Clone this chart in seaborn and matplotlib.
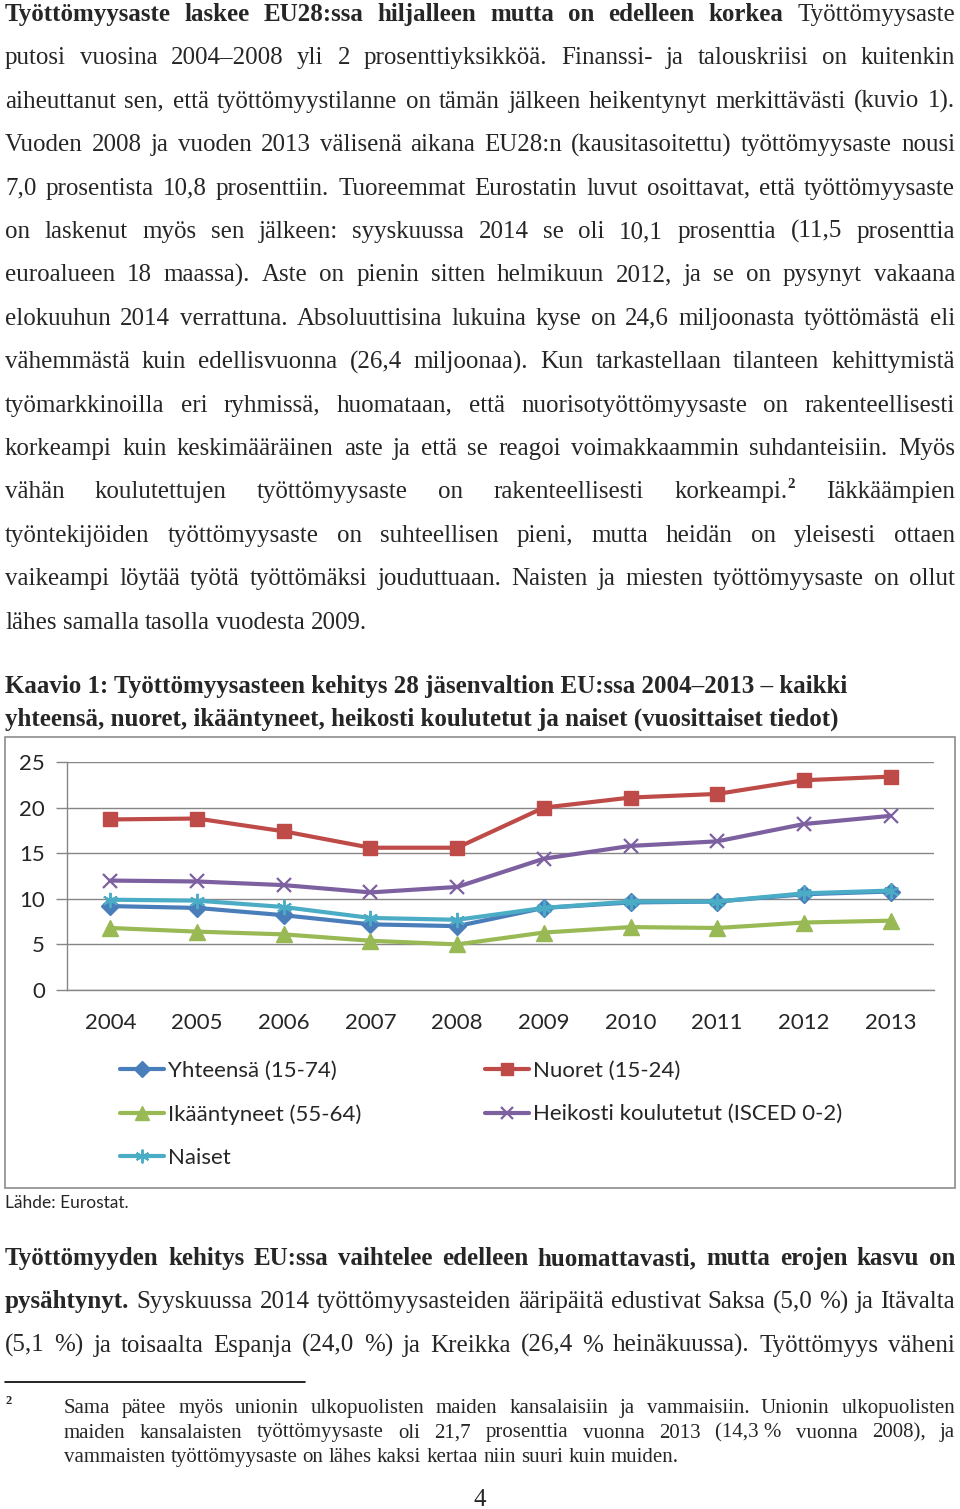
import numpy as np
import pandas as pd
import matplotlib
matplotlib.use("Agg")
import matplotlib.pyplot as plt
import seaborn as sns
from matplotlib.lines import Line2D
from matplotlib.patches import Rectangle

# Kaavion tiedot (luettu kuvasta)
years = ['2004', '2005', '2006', '2007', '2008', '2009', '2010', '2011', '2012', '2013']
yhteensa = [9.2, 9.0, 8.2, 7.2, 7.0, 9.0, 9.6, 9.7, 10.5, 10.8]
nuoret = [18.7, 18.8, 17.4, 15.6, 15.6, 20.0, 21.1, 21.5, 23.0, 23.4]
ikaantyneet = [6.8, 6.4, 6.1, 5.4, 5.0, 6.3, 6.9, 6.8, 7.4, 7.6]
heikosti = [12.0, 11.9, 11.5, 10.7, 11.3, 14.4, 15.8, 16.3, 18.2, 19.1]
naiset = [9.9, 9.8, 9.1, 7.9, 7.7, 9.0, 9.7, 9.7, 10.6, 10.9]
y_ticks = [0, 5, 10, 15, 20, 25]

W, H = 960, 1509
sns.set_style("white")
plt.rcParams['font.family'] = ['Liberation Serif', 'DejaVu Sans']

fig = plt.figure(figsize=(W / 100, H / 100), dpi=100)
renderer = fig.canvas.get_renderer()

SERIF = 'Liberation Serif'
SANS = 'Lato'
BODY = 18


def fx(x):
    return x / W


def fy(y):
    return 1 - y / H


def make_words(segments):
    # segments: (teksti, tyyli); n = normaali, b = lihavoitu, sup = yläindeksi
    words = []
    for text, style in segments:
        if style == 'sup':
            words[-1].append((text, style))
            continue
        for w in text.split(' '):
            if w:
                words.append([(w, style)])
    return words


def text_width(s, size, weight='normal'):
    t = fig.text(0, 0, s, fontsize=size, family=SERIF, weight=weight)
    w = t.get_window_extent(renderer).width
    t.remove()
    return w


def draw_line(segments, base, x0, x1, size, justify=True):
    items = []
    for word in make_words(segments):
        parts = []
        width = 0
        for text, style in word:
            if style == 'sup':
                t = fig.text(0, 0, text, fontsize=size * 0.6, family=SERIF,
                             weight='bold', va='baseline', ha='left')
            else:
                t = fig.text(0, 0, text, fontsize=size, family=SERIF,
                             weight='bold' if style == 'b' else 'normal',
                             va='baseline', ha='left')
            parts.append((t, style, width))
            width += t.get_window_extent(renderer).width + (1 if style == 'sup' else 0)
        items.append((parts, width))
    space = text_width('a a', size) - text_width('aa', size)
    total = sum(w for _, w in items)
    if justify and len(items) > 1:
        gap = (x1 - x0 - total) / (len(items) - 1)
    else:
        gap = space
    x = x0
    for parts, width in items:
        for t, style, off in parts:
            dy = size * 0.55 if style == 'sup' else 0
            t.set_position((fx(x + off), fy(base - dy)))
        x += width + gap


# Ensimmäinen kappale
para1 = [
    [("Työttömyysaste laskee EU28:ssa hiljalleen mutta on edelleen korkea", 'b'), ("Työttömyysaste", 'n')],
    [("putosi vuosina 2004–2008 yli 2 prosenttiyksikköä. Finanssi- ja talouskriisi on kuitenkin", 'n')],
    [("aiheuttanut sen, että työttömyystilanne on tämän jälkeen heikentynyt merkittävästi (kuvio 1).", 'n')],
    [("Vuoden 2008 ja vuoden 2013 välisenä aikana EU28:n (kausitasoitettu) työttömyysaste nousi", 'n')],
    [("7,0 prosentista 10,8 prosenttiin. Tuoreemmat Eurostatin luvut osoittavat, että työttömyysaste", 'n')],
    [("on laskenut myös sen jälkeen: syyskuussa 2014 se oli 10,1 prosenttia (11,5 prosenttia", 'n')],
    [("euroalueen 18 maassa). Aste on pienin sitten helmikuun 2012, ja se on pysynyt vakaana", 'n')],
    [("elokuuhun 2014 verrattuna. Absoluuttisina lukuina kyse on 24,6 miljoonasta työttömästä eli", 'n')],
    [("vähemmästä kuin edellisvuonna (26,4 miljoonaa). Kun tarkastellaan tilanteen kehittymistä", 'n')],
    [("työmarkkinoilla eri ryhmissä, huomataan, että nuorisotyöttömyysaste on rakenteellisesti", 'n')],
    [("korkeampi kuin keskimääräinen aste ja että se reagoi voimakkaammin suhdanteisiin. Myös", 'n')],
    [("vähän koulutettujen työttömyysaste on rakenteellisesti korkeampi.", 'n'), ("2", 'sup'), ("Iäkkäämpien", 'n')],
    [("työntekijöiden työttömyysaste on suhteellisen pieni, mutta heidän on yleisesti ottaen", 'n')],
    [("vaikeampi löytää työtä työttömäksi jouduttuaan. Naisten ja miesten työttömyysaste on ollut", 'n')],
    [("lähes samalla tasolla vuodesta 2009.", 'n')],
]
for i, line in enumerate(para1):
    draw_line(line, 21 + 43.4 * i, 5, 955, BODY, justify=(i < len(para1) - 1))

# Kaavion otsikko
fig.text(fx(5), fy(693), "Kaavio 1: Työttömyysasteen kehitys 28 jäsenvaltion EU:ssa 2004–2013 – kaikki",
         fontsize=BODY, family=SERIF, weight='bold', va='baseline')
fig.text(fx(5), fy(726), "yhteensä, nuoret, ikääntyneet, heikosti koulutetut ja naiset (vuosittaiset tiedot)",
         fontsize=BODY, family=SERIF, weight='bold', va='baseline')

# Kaavion kehys
fig.patches.append(Rectangle((fx(5), fy(1188)), fx(950), (1188 - 737) / H,
                             transform=fig.transFigure, fill=False, edgecolor='#8c8c8c', lw=1.2))

# Kaavio
ax = fig.add_axes([fx(67), fy(990), fx(934 - 67), (990 - 762) / H])
series = [
    ('Yhteensä (15-74)', yhteensa, '#4A7EBB', 'D', 9, 1),
    ('Nuoret (15-24)', nuoret, '#BE4B48', 's', 10, 1),
    ('Ikääntyneet (55-64)', ikaantyneet, '#98B954', '^', 11, 1),
    ('Heikosti koulutetut (ISCED 0-2)', heikosti, '#7D60A0', 'x', 10, 1.6),
    ('Naiset', naiset, '#4BACC6', (6, 2, 0), 11, 1.4),
]
xpos = np.arange(len(years))
handles = {}
for name, vals, color, marker, ms, mew in series:
    df = pd.DataFrame({'vuosi': xpos, 'arvo': vals})
    sns.lineplot(data=df, x='vuosi', y='arvo', ax=ax, color=color, lw=3, marker=marker,
                 markersize=ms, markeredgecolor=color, markeredgewidth=mew, legend=False)
    handles[name] = Line2D([], [], color=color, lw=3, marker=marker, markersize=ms * 0.9,
                           markeredgecolor=color, markeredgewidth=mew)

ax.set_xlim(-0.5, len(years) - 0.5)
ax.set_ylim(0, 25)
ax.set_yticks(y_ticks)
ax.set_yticklabels([str(v) for v in y_ticks], fontsize=16, family=SANS)
ax.set_xticks(np.arange(len(years) + 1) - 0.5)
ax.set_xticklabels([])
ax.set_xticks(xpos, minor=True)
ax.set_xticklabels(years, minor=True, fontsize=16, family=SANS)
ax.tick_params(axis='x', which='major', direction='out', length=7, width=1, color='#868686')
ax.tick_params(axis='x', which='minor', length=0, pad=16.5)
ax.tick_params(axis='y', direction='out', length=8, width=1, color='#868686', pad=8, left=True)
ax.grid(axis='y', color='#868686', lw=1)
ax.set_axisbelow(True)
for s in ['top', 'right']:
    ax.spines[s].set_visible(False)
for s in ['left', 'bottom']:
    ax.spines[s].set_color('#868686')
    ax.spines[s].set_linewidth(1)
ax.set_xlabel('')
ax.set_ylabel('')

# Selite kahdessa sarakkeessa
col1 = ['Yhteensä (15-74)', 'Ikääntyneet (55-64)', 'Naiset']
col2 = ['Nuoret (15-24)', 'Heikosti koulutetut (ISCED 0-2)']
leg_kw = dict(frameon=False, loc='upper left', borderpad=0, borderaxespad=0, handlelength=2.0,
              handletextpad=0.15, labelspacing=1.05, prop={'family': SANS, 'size': 16})
fig.legend([handles[n] for n in col1], col1, bbox_to_anchor=(fx(120), fy(1061)), **leg_kw)
fig.legend([handles[n] for n in col2], col2, bbox_to_anchor=(fx(485), fy(1061)), **leg_kw)

fig.text(fx(5), fy(1208), "Lähde: Eurostat.", fontsize=12.5, family=SANS, va='baseline')

# Toinen kappale
para2 = [
    [("Työttömyyden kehitys EU:ssa vaihtelee edelleen huomattavasti, mutta erojen kasvu on", 'b')],
    [("pysähtynyt.", 'b'), ("Syyskuussa 2014 työttömyysasteiden ääripäitä edustivat Saksa (5,0 %) ja Itävalta", 'n')],
    [("(5,1 %) ja toisaalta Espanja (24,0 %) ja Kreikka (26,4 % heinäkuussa). Työttömyys väheni", 'n')],
]
for i, line in enumerate(para2):
    draw_line(line, 1265 + 43.4 * i, 5, 955, BODY)

# Alaviite
fig.add_artist(Line2D([fx(5), fx(305)], [fy(1382), fy(1382)], transform=fig.transFigure,
                      color='black', lw=1.2))
fig.text(fx(5), fy(1404), "2", fontsize=9, family=SERIF, weight='bold', va='baseline')
foot = [
    [("Sama pätee myös unionin ulkopuolisten maiden kansalaisiin ja vammaisiin. Unionin ulkopuolisten", 'n')],
    [("maiden kansalaisten työttömyysaste oli 21,7 prosenttia vuonna 2013 (14,3\u00a0% vuonna 2008), ja", 'n')],
    [("vammaisten työttömyysaste on lähes kaksi kertaa niin suuri kuin muiden.", 'n')],
]
for i, line in enumerate(foot):
    draw_line(line, 1413 + 24.5 * i, 64, 955, 15, justify=(i < len(foot) - 1))

fig.text(fx(480), fy(1506), "4", fontsize=BODY, family=SERIF, ha='center', va='baseline')

fig.savefig('out.png', dpi=100)
